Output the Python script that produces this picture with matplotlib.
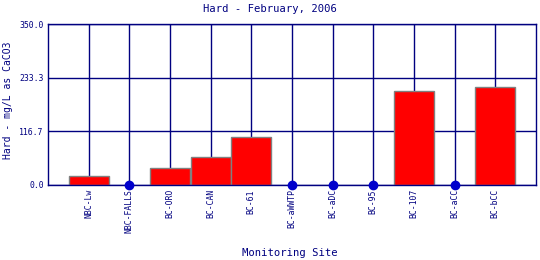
import numpy as np
import matplotlib.pyplot as plt

# --- data ---
sites = ['NBC-Lw', 'NBC-FALLS', 'BC-ORO', 'BC-CAN', 'BC-61', 'BC-aWWTP',
         'BC-aDC', 'BC-95', 'BC-107', 'BC-aCC', 'BC-bCC']
hardness = [19, np.nan, 37, 61, 104, np.nan, np.nan, np.nan, 204, np.nan, 213]
y_ticks = [0.0, 116.7, 233.3, 350.0]

navy = '#000080'
font = 'DejaVu Sans Mono'

fig = plt.figure(figsize=(5.4, 2.6), dpi=100)
ax = fig.add_axes([48 / 540, 1 - 185 / 260, 488 / 540, 161 / 260])

x = np.arange(1, len(sites) + 1)
vals = np.array(hardness, dtype=float)
has_val = ~np.isnan(vals)

# grid behind the bars
for xi in x:
    ax.axvline(xi, color=navy, lw=1.0, zorder=0)
for yt in y_ticks:
    ax.axhline(yt, color=navy, lw=1.0, zorder=0)

ax.bar(x[has_val], vals[has_val], width=0.98, color='#ff0000',
       edgecolor='#808080', linewidth=1.0, zorder=2)

# missing samples shown as dots on the baseline
ax.plot(x[~has_val], np.zeros((~has_val).sum()), 'o', color='#0000cc',
        markersize=6, zorder=3, clip_on=False)

ax.set_xlim(0, len(sites) + 1)
ax.set_ylim(0, 350)
ax.set_xticks(x)
ax.set_xticklabels(sites, rotation=90, fontsize=5.9, family=font, color=navy)
ax.set_yticks(y_ticks)
ax.set_yticklabels([f'{v:.1f}' for v in y_ticks], fontsize=5.9, family=font,
                   color=navy)
ax.tick_params(length=0, pad=3)
for s in ax.spines.values():
    s.set_color(navy)
    s.set_linewidth(1.0)

fig.text(270 / 540, 1 - 9 / 260, 'Hard - February, 2006', ha='center',
         va='center', fontsize=7.6, family=font, color=navy)
fig.text(8 / 540, 1 - 100 / 260, 'Hard - mg/L as CaCO3', ha='center',
         va='center', rotation=90, fontsize=7.0, family=font, color=navy)
fig.text(290 / 540, 1 - 253 / 260, 'Monitoring Site', ha='center',
         va='center', fontsize=7.6, family=font, color=navy)

fig.savefig('out.png', dpi=100)
